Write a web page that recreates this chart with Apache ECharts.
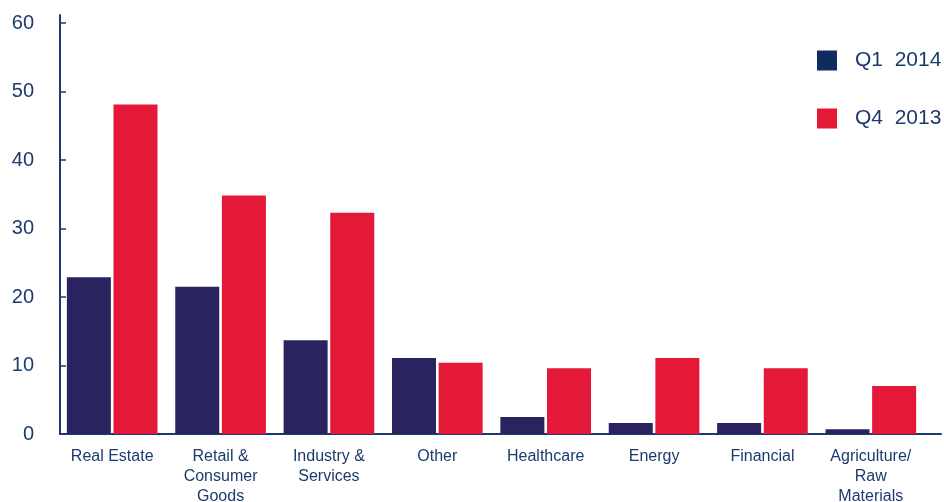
<!DOCTYPE html>
<html>
<head>
<meta charset="utf-8">
<script src="https://cdn.jsdelivr.net/npm/echarts@6/dist/echarts.min.js"></script>
<style>
html,body{margin:0;padding:0;background:#fff;}
#c{width:944px;height:502px;}
</style>
</head>
<body>
<div id="c"></div>
<script>
var categories = ['Real Estate', 'Retail &\nConsumer\nGoods', 'Industry &\nServices', 'Other', 'Healthcare', 'Energy', 'Financial', 'Agriculture/\nRaw\nMaterials'];
var q1_2014 = [22.9, 21.5, 13.7, 11.1, 2.5, 1.6, 1.6, 0.7];
var q4_2013 = [48.1, 34.8, 32.3, 10.4, 9.6, 11.1, 9.6, 7.0];
var yTicks = [0, 10, 20, 30, 40, 50, 60];

var navy = '#1c3a6e';
var font = 'Liberation Sans, Arial, sans-serif';
var chart = echarts.init(document.getElementById('c'), null, {renderer: 'canvas'});
chart.setOption({
  backgroundColor: '#ffffff',
  animation: false,
  textStyle: {fontFamily: font},
  legend: {
    orient: 'vertical',
    left: 817, top: 50, padding: 0,
    itemWidth: 20, itemHeight: 20, itemGap: 37,
    icon: 'rect',
    textStyle: {fontSize: 21, color: navy, fontFamily: font, padding: [0, 0, 0, 13]},
    data: [
      {name: 'Q1  2014', itemStyle: {color: '#0f2c5f'}},
      {name: 'Q4  2013', itemStyle: {color: '#e31937'}}
    ]
  },
  grid: [
    {left: 58, right: 19, top: 23, bottom: 68, outerBoundsMode: 'none', containLabel: false},
    {left: 60, right: 3, top: 15, bottom: 68, outerBoundsMode: 'none', containLabel: false}
  ],
  xAxis: [
    {
      type: 'category', gridIndex: 0, data: categories,
      axisLine: {show: false}, axisTick: {show: false},
      axisLabel: {interval: 0, margin: 13, fontSize: 16, lineHeight: 20, color: navy, fontFamily: font}
    },
    {
      type: 'category', gridIndex: 1, data: categories,
      axisLine: {show: true, lineStyle: {color: navy, width: 2}},
      axisTick: {show: false}, axisLabel: {show: false}
    }
  ],
  yAxis: [
    {type: 'value', gridIndex: 0, min: 0, max: 60, interval: 10, show: false},
    {
      type: 'value', gridIndex: 1, min: 0, max: 61.2,
      splitLine: {show: false},
      axisLine: {show: true, lineStyle: {color: navy, width: 2}},
      axisTick: {show: true, inside: true, length: 6, customValues: yTicks, lineStyle: {color: navy, width: 1.5}},
      axisLabel: {customValues: yTicks, margin: 26, fontSize: 20, color: navy, fontFamily: font}
    }
  ],
  series: [
    {name: 'Q1  2014', type: 'bar', xAxisIndex: 0, yAxisIndex: 0, data: q1_2014, barWidth: 44, barGap: '6%', itemStyle: {color: '#29245f'}},
    {name: 'Q4  2013', type: 'bar', xAxisIndex: 0, yAxisIndex: 0, data: q4_2013, barWidth: 44, barGap: '6%', itemStyle: {color: '#e31937'}}
  ]
});
</script>
</body>
</html>
